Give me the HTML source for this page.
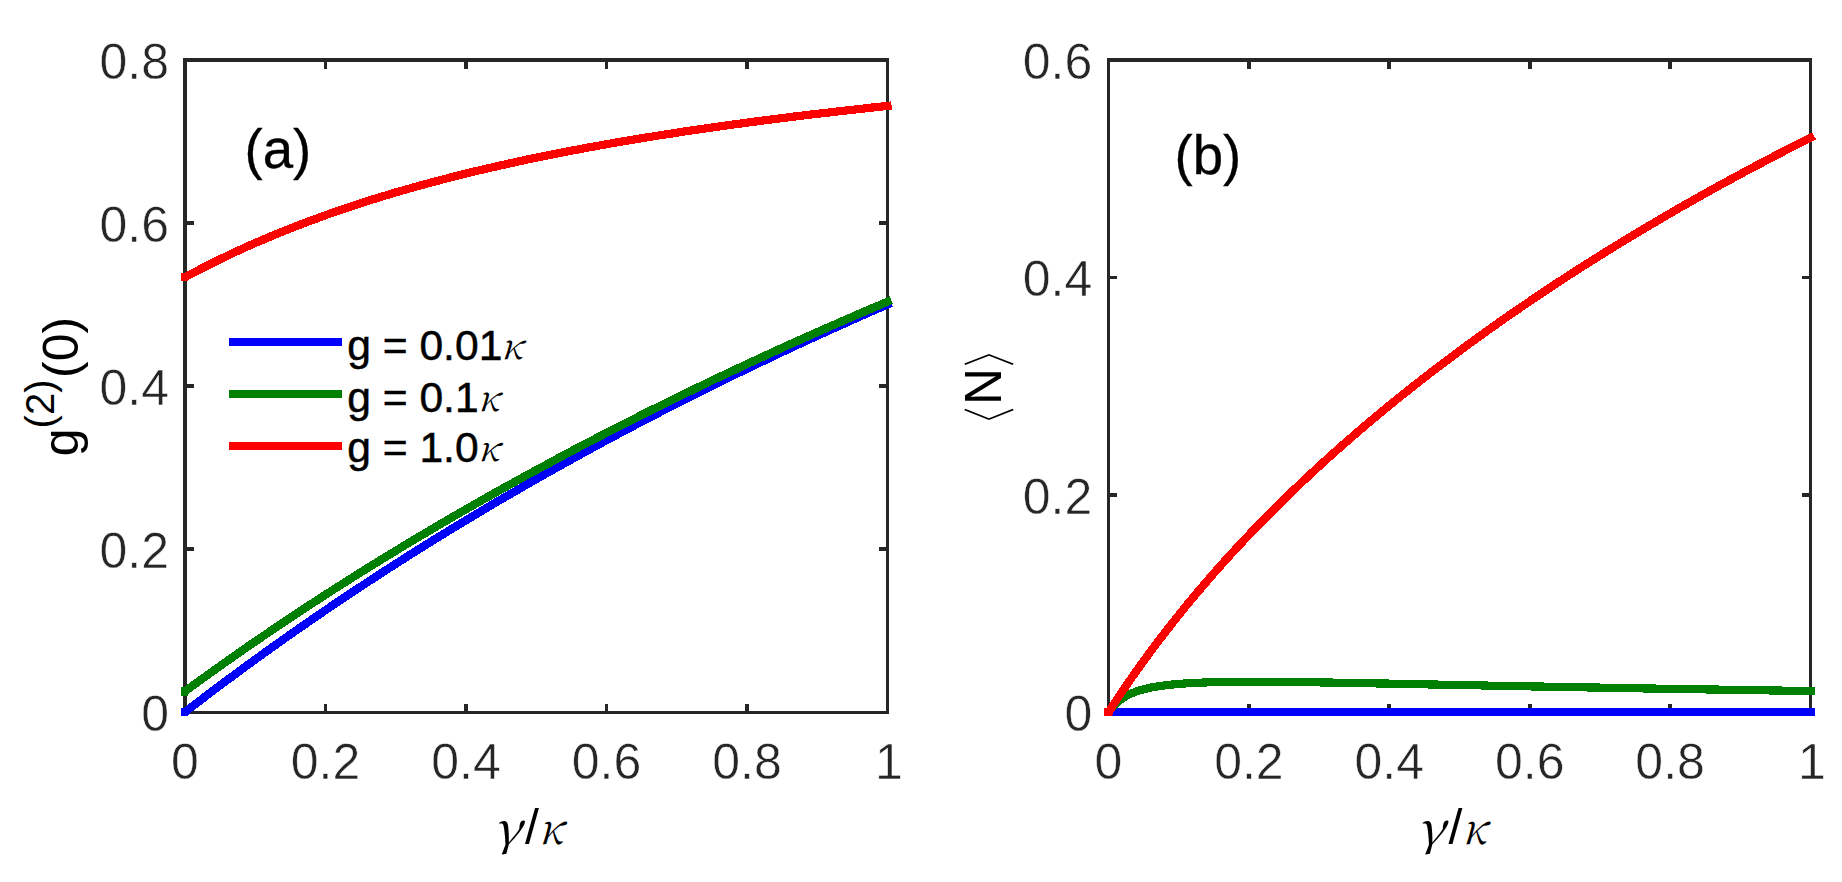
<!DOCTYPE html>
<html lang="en"><head><meta charset="utf-8"><title>Figure</title>
<style>html,body{margin:0;padding:0;background:#fff;overflow:hidden}svg{display:block}.t{font-family:"Liberation Sans",sans-serif;font-size:50px;fill:#262626;stroke:#fff;stroke-width:.5px}.l{font-family:"Liberation Sans",sans-serif;font-size:42.6px;fill:#000;stroke:#000;stroke-width:.5px}.k{font-family:"Liberation Serif",serif;font-style:italic;fill:#000}.p{font-family:"Liberation Sans",sans-serif;font-size:54.6px;fill:#000;stroke:#000;stroke-width:.3px}.y{font-family:"Liberation Sans",sans-serif;font-size:50px;fill:#000}.c{fill:none;stroke-width:8.2;stroke-linecap:square;stroke-linejoin:miter}</style></head><body>
<svg width="1842" height="882" viewBox="0 0 1842 882">
<rect width="1842" height="882" fill="#fff"/>
<g shape-rendering="crispEdges">
<rect x="183" y="58" width="706" height="4" fill="#262626"/>
<rect x="183" y="711" width="706" height="3" fill="#262626"/>
<rect x="183" y="58" width="4" height="656" fill="#262626"/>
<rect x="886" y="58" width="3" height="656" fill="#262626"/>
<rect x="324" y="704" width="3" height="7" fill="#262626"/>
<rect x="324" y="62" width="3" height="7" fill="#262626"/>
<rect x="464" y="704" width="4" height="7" fill="#262626"/>
<rect x="464" y="62" width="4" height="7" fill="#262626"/>
<rect x="605" y="704" width="3" height="7" fill="#262626"/>
<rect x="605" y="62" width="3" height="7" fill="#262626"/>
<rect x="745" y="704" width="4" height="7" fill="#262626"/>
<rect x="745" y="62" width="4" height="7" fill="#262626"/>
<rect x="187" y="547" width="7" height="4" fill="#262626"/>
<rect x="879" y="547" width="7" height="4" fill="#262626"/>
<rect x="187" y="384" width="7" height="4" fill="#262626"/>
<rect x="879" y="384" width="7" height="4" fill="#262626"/>
<rect x="187" y="221" width="7" height="4" fill="#262626"/>
<rect x="879" y="221" width="7" height="4" fill="#262626"/>
</g>
<text class="t" x="185.0" y="779.1" text-anchor="middle">0</text>
<text class="t" x="325.5" y="779.1" text-anchor="middle">0.2</text>
<text class="t" x="466.0" y="779.1" text-anchor="middle">0.4</text>
<text class="t" x="606.5" y="779.1" text-anchor="middle">0.6</text>
<text class="t" x="747.0" y="779.1" text-anchor="middle">0.8</text>
<text class="t" x="889.0" y="779.1" text-anchor="middle">1</text>
<text class="t" x="169.0" y="731.4" text-anchor="end">0</text>
<text class="t" x="169.0" y="568.3" text-anchor="end">0.2</text>
<text class="t" x="169.0" y="405.1" text-anchor="end">0.4</text>
<text class="t" x="169.0" y="242.0" text-anchor="end">0.6</text>
<text class="t" x="169.0" y="78.9" text-anchor="end">0.8</text>
<g shape-rendering="crispEdges">
<rect x="1107" y="58" width="705" height="4" fill="#262626"/>
<rect x="1107" y="711" width="705" height="3" fill="#262626"/>
<rect x="1107" y="58" width="3" height="656" fill="#262626"/>
<rect x="1809" y="58" width="3" height="656" fill="#262626"/>
<rect x="1247" y="704" width="4" height="7" fill="#262626"/>
<rect x="1247" y="62" width="4" height="7" fill="#262626"/>
<rect x="1387" y="704" width="4" height="7" fill="#262626"/>
<rect x="1387" y="62" width="4" height="7" fill="#262626"/>
<rect x="1528" y="704" width="4" height="7" fill="#262626"/>
<rect x="1528" y="62" width="4" height="7" fill="#262626"/>
<rect x="1668" y="704" width="4" height="7" fill="#262626"/>
<rect x="1668" y="62" width="4" height="7" fill="#262626"/>
<rect x="1110" y="493" width="7" height="4" fill="#262626"/>
<rect x="1802" y="493" width="7" height="4" fill="#262626"/>
<rect x="1110" y="276" width="7" height="3" fill="#262626"/>
<rect x="1802" y="276" width="7" height="3" fill="#262626"/>
</g>
<text class="t" x="1108.5" y="779.1" text-anchor="middle">0</text>
<text class="t" x="1248.9" y="779.1" text-anchor="middle">0.2</text>
<text class="t" x="1389.3" y="779.1" text-anchor="middle">0.4</text>
<text class="t" x="1529.7" y="779.1" text-anchor="middle">0.6</text>
<text class="t" x="1670.1" y="779.1" text-anchor="middle">0.8</text>
<text class="t" x="1812.0" y="779.1" text-anchor="middle">1</text>
<text class="t" x="1092.3" y="731.4" text-anchor="end">0</text>
<text class="t" x="1092.3" y="513.9" text-anchor="end">0.2</text>
<text class="t" x="1092.3" y="296.4" text-anchor="end">0.4</text>
<text class="t" x="1092.3" y="78.9" text-anchor="end">0.6</text>
<g class="c" shape-rendering="crispEdges">
<path d="M185.0,712.1 h0.6 L186.4,711.0 L188.5,709.4 L192.0,706.7 L199.1,701.3 L206.1,695.9 L213.1,690.6 L220.1,685.4 L227.2,680.1 L234.2,674.9 L241.2,669.7 L248.2,664.6 L255.2,659.5 L262.3,654.4 L269.3,649.4 L276.3,644.4 L283.4,639.4 L290.4,634.4 L297.4,629.5 L304.4,624.7 L311.5,619.8 L318.5,615.0 L325.5,610.2 L332.5,605.4 L339.6,600.7 L346.6,596.0 L353.6,591.3 L360.6,586.7 L367.6,582.1 L374.7,577.5 L381.7,572.9 L388.7,568.4 L395.8,563.9 L402.8,559.4 L409.8,554.9 L416.8,550.5 L423.9,546.1 L430.9,541.7 L437.9,537.4 L444.9,533.1 L451.9,528.8 L459.0,524.5 L466.0,520.3 L473.0,516.1 L480.1,511.9 L487.1,507.7 L494.1,503.5 L501.1,499.4 L508.2,495.3 L515.2,491.3 L522.2,487.2 L529.2,483.2 L536.2,479.2 L543.3,475.2 L550.3,471.2 L557.3,467.3 L564.4,463.4 L571.4,459.5 L578.4,455.6 L585.4,451.8 L592.5,447.9 L599.5,444.1 L606.5,440.3 L613.5,436.6 L620.5,432.8 L627.6,429.1 L634.6,425.4 L641.6,421.7 L648.7,418.1 L655.7,414.4 L662.7,410.8 L669.7,407.2 L676.8,403.6 L683.8,400.1 L690.8,396.5 L697.8,393.0 L704.9,389.5 L711.9,386.0 L718.9,382.5 L725.9,379.1 L733.0,375.6 L740.0,372.2 L747.0,368.8 L754.0,365.5 L761.1,362.1 L768.1,358.7 L775.1,355.4 L782.1,352.1 L789.1,348.8 L796.2,345.5 L803.2,342.3 L810.2,339.0 L817.2,335.8 L824.3,332.6 L831.3,329.4 L838.3,326.2 L845.4,323.1 L852.4,319.9 L859.4,316.8 L866.4,313.7 L873.4,310.6 L880.5,307.5 L887.5,304.5" stroke="#0000ff"/>
<path d="M185.0,691.4 h0.6 L186.4,690.4 L188.5,688.8 L192.0,686.2 L199.1,681.1 L206.1,676.0 L213.1,671.0 L220.1,666.0 L227.2,661.0 L234.2,656.1 L241.2,651.2 L248.2,646.3 L255.2,641.5 L262.3,636.7 L269.3,631.9 L276.3,627.1 L283.4,622.4 L290.4,617.7 L297.4,613.1 L304.4,608.4 L311.5,603.8 L318.5,599.3 L325.5,594.7 L332.5,590.2 L339.6,585.7 L346.6,581.3 L353.6,576.8 L360.6,572.4 L367.6,568.0 L374.7,563.7 L381.7,559.3 L388.7,555.0 L395.8,550.8 L402.8,546.5 L409.8,542.3 L416.8,538.1 L423.9,533.9 L430.9,529.7 L437.9,525.6 L444.9,521.5 L451.9,517.4 L459.0,513.3 L466.0,509.3 L473.0,505.3 L480.1,501.3 L487.1,497.3 L494.1,493.3 L501.1,489.4 L508.2,485.5 L515.2,481.6 L522.2,477.7 L529.2,473.9 L536.2,470.1 L543.3,466.3 L550.3,462.5 L557.3,458.7 L564.4,455.0 L571.4,451.2 L578.4,447.5 L585.4,443.8 L592.5,440.2 L599.5,436.5 L606.5,432.9 L613.5,429.3 L620.5,425.7 L627.6,422.1 L634.6,418.6 L641.6,415.0 L648.7,411.5 L655.7,408.0 L662.7,404.5 L669.7,401.1 L676.8,397.6 L683.8,394.2 L690.8,390.8 L697.8,387.4 L704.9,384.0 L711.9,380.6 L718.9,377.3 L725.9,374.0 L733.0,370.6 L740.0,367.4 L747.0,364.1 L754.0,360.8 L761.1,357.6 L768.1,354.3 L775.1,351.1 L782.1,347.9 L789.1,344.7 L796.2,341.6 L803.2,338.4 L810.2,335.3 L817.2,332.2 L824.3,329.0 L831.3,326.0 L838.3,322.9 L845.4,319.8 L852.4,316.8 L859.4,313.7 L866.4,310.7 L873.4,307.7 L880.5,304.7 L887.5,301.7" stroke="#008000"/>
<path d="M185.0,277.3 h0.6 L186.4,276.5 L188.5,275.4 L192.0,273.5 L199.1,269.8 L206.1,266.2 L213.1,262.7 L220.1,259.2 L227.2,255.9 L234.2,252.5 L241.2,249.3 L248.2,246.1 L255.2,243.0 L262.3,240.0 L269.3,237.0 L276.3,234.1 L283.4,231.2 L290.4,228.4 L297.4,225.7 L304.4,223.0 L311.5,220.4 L318.5,217.8 L325.5,215.2 L332.5,212.8 L339.6,210.3 L346.6,207.9 L353.6,205.6 L360.6,203.3 L367.6,201.0 L374.7,198.8 L381.7,196.7 L388.7,194.5 L395.8,192.4 L402.8,190.4 L409.8,188.4 L416.8,186.4 L423.9,184.5 L430.9,182.6 L437.9,180.7 L444.9,178.9 L451.9,177.1 L459.0,175.3 L466.0,173.5 L473.0,171.8 L480.1,170.1 L487.1,168.5 L494.1,166.9 L501.1,165.3 L508.2,163.7 L515.2,162.2 L522.2,160.6 L529.2,159.1 L536.2,157.7 L543.3,156.2 L550.3,154.8 L557.3,153.4 L564.4,152.0 L571.4,150.7 L578.4,149.4 L585.4,148.0 L592.5,146.7 L599.5,145.5 L606.5,144.2 L613.5,143.0 L620.5,141.8 L627.6,140.6 L634.6,139.4 L641.6,138.2 L648.7,137.1 L655.7,136.0 L662.7,134.8 L669.7,133.8 L676.8,132.7 L683.8,131.6 L690.8,130.6 L697.8,129.5 L704.9,128.5 L711.9,127.5 L718.9,126.5 L725.9,125.5 L733.0,124.5 L740.0,123.6 L747.0,122.6 L754.0,121.7 L761.1,120.8 L768.1,119.9 L775.1,119.0 L782.1,118.1 L789.1,117.2 L796.2,116.3 L803.2,115.5 L810.2,114.6 L817.2,113.8 L824.3,113.0 L831.3,112.2 L838.3,111.3 L845.4,110.6 L852.4,109.8 L859.4,109.0 L866.4,108.2 L873.4,107.4 L880.5,106.7 L887.5,105.9" stroke="#ff0000"/>
</g>
<g class="c" shape-rendering="crispEdges">
<path d="M1108.5,712.3 h0.6 L1109.9,711.9 L1112.0,711.9 L1115.5,711.9 L1122.5,711.9 L1129.6,711.9 L1136.6,711.9 L1143.6,711.9 L1150.6,711.9 L1157.6,711.9 L1164.7,711.9 L1171.7,711.9 L1178.7,711.9 L1185.7,711.9 L1192.7,711.9 L1199.8,711.9 L1206.8,711.9 L1213.8,711.9 L1220.8,711.9 L1227.8,711.9 L1234.9,711.9 L1241.9,711.9 L1248.9,711.9 L1255.9,711.9 L1262.9,711.9 L1270.0,711.9 L1277.0,711.9 L1284.0,712.0 L1291.0,712.0 L1298.0,712.0 L1305.1,712.0 L1312.1,712.0 L1319.1,712.0 L1326.1,712.0 L1333.1,712.0 L1340.2,712.0 L1347.2,712.0 L1354.2,712.0 L1361.2,712.0 L1368.2,712.0 L1375.3,712.0 L1382.3,712.0 L1389.3,712.0 L1396.3,712.0 L1403.3,712.0 L1410.4,712.0 L1417.4,712.0 L1424.4,712.0 L1431.4,712.0 L1438.4,712.0 L1445.5,712.0 L1452.5,712.0 L1459.5,712.0 L1466.5,712.0 L1473.5,712.0 L1480.6,712.0 L1487.6,712.0 L1494.6,712.0 L1501.6,712.0 L1508.6,712.0 L1515.7,712.0 L1522.7,712.0 L1529.7,712.0 L1536.7,712.0 L1543.7,712.0 L1550.8,712.0 L1557.8,712.0 L1564.8,712.0 L1571.8,712.0 L1578.8,712.0 L1585.9,712.0 L1592.9,712.0 L1599.9,712.0 L1606.9,712.0 L1613.9,712.0 L1621.0,712.0 L1628.0,712.1 L1635.0,712.1 L1642.0,712.1 L1649.0,712.1 L1656.1,712.1 L1663.1,712.1 L1670.1,712.1 L1677.1,712.1 L1684.1,712.1 L1691.2,712.1 L1698.2,712.1 L1705.2,712.1 L1712.2,712.1 L1719.2,712.1 L1726.3,712.1 L1733.3,712.1 L1740.3,712.1 L1747.3,712.1 L1754.3,712.1 L1761.4,712.1 L1768.4,712.1 L1775.4,712.1 L1782.4,712.1 L1789.4,712.1 L1796.5,712.1 L1803.5,712.1 L1810.5,712.1" stroke="#0000ff"/>
<path d="M1108.5,712.3 h0.6 L1109.9,710.2 L1112.0,707.5 L1115.5,703.7 L1122.5,698.1 L1129.6,694.2 L1136.6,691.4 L1143.6,689.2 L1150.6,687.6 L1157.6,686.4 L1164.7,685.4 L1171.7,684.6 L1178.7,683.9 L1185.7,683.4 L1192.7,683.0 L1199.8,682.7 L1206.8,682.4 L1213.8,682.2 L1220.8,682.1 L1227.8,682.0 L1234.9,681.9 L1241.9,681.8 L1248.9,681.8 L1255.9,681.8 L1262.9,681.8 L1270.0,681.9 L1277.0,681.9 L1284.0,682.0 L1291.0,682.0 L1298.0,682.1 L1305.1,682.2 L1312.1,682.3 L1319.1,682.4 L1326.1,682.5 L1333.1,682.6 L1340.2,682.7 L1347.2,682.9 L1354.2,683.0 L1361.2,683.1 L1368.2,683.2 L1375.3,683.4 L1382.3,683.5 L1389.3,683.6 L1396.3,683.8 L1403.3,683.9 L1410.4,684.0 L1417.4,684.2 L1424.4,684.3 L1431.4,684.5 L1438.4,684.6 L1445.5,684.7 L1452.5,684.9 L1459.5,685.0 L1466.5,685.1 L1473.5,685.3 L1480.6,685.4 L1487.6,685.6 L1494.6,685.7 L1501.6,685.8 L1508.6,686.0 L1515.7,686.1 L1522.7,686.2 L1529.7,686.4 L1536.7,686.5 L1543.7,686.6 L1550.8,686.8 L1557.8,686.9 L1564.8,687.0 L1571.8,687.1 L1578.8,687.3 L1585.9,687.4 L1592.9,687.5 L1599.9,687.6 L1606.9,687.8 L1613.9,687.9 L1621.0,688.0 L1628.0,688.1 L1635.0,688.3 L1642.0,688.4 L1649.0,688.5 L1656.1,688.6 L1663.1,688.7 L1670.1,688.8 L1677.1,689.0 L1684.1,689.1 L1691.2,689.2 L1698.2,689.3 L1705.2,689.4 L1712.2,689.5 L1719.2,689.6 L1726.3,689.7 L1733.3,689.9 L1740.3,690.0 L1747.3,690.1 L1754.3,690.2 L1761.4,690.3 L1768.4,690.4 L1775.4,690.5 L1782.4,690.6 L1789.4,690.7 L1796.5,690.8 L1803.5,690.9 L1810.5,691.0" stroke="#008000"/>
<path d="M1108.5,712.3 h0.6 L1109.9,710.1 L1112.0,706.9 L1115.5,701.6 L1122.5,691.1 L1129.6,680.8 L1136.6,670.8 L1143.6,661.0 L1150.6,651.5 L1157.6,642.1 L1164.7,632.9 L1171.7,623.9 L1178.7,615.1 L1185.7,606.4 L1192.7,597.9 L1199.8,589.6 L1206.8,581.4 L1213.8,573.3 L1220.8,565.4 L1227.8,557.6 L1234.9,549.9 L1241.9,542.4 L1248.9,535.0 L1255.9,527.6 L1262.9,520.4 L1270.0,513.3 L1277.0,506.3 L1284.0,499.4 L1291.0,492.6 L1298.0,485.9 L1305.1,479.2 L1312.1,472.7 L1319.1,466.2 L1326.1,459.8 L1333.1,453.5 L1340.2,447.2 L1347.2,441.1 L1354.2,435.0 L1361.2,429.0 L1368.2,423.0 L1375.3,417.1 L1382.3,411.3 L1389.3,405.5 L1396.3,399.8 L1403.3,394.2 L1410.4,388.6 L1417.4,383.0 L1424.4,377.6 L1431.4,372.1 L1438.4,366.8 L1445.5,361.4 L1452.5,356.2 L1459.5,351.0 L1466.5,345.8 L1473.5,340.7 L1480.6,335.6 L1487.6,330.5 L1494.6,325.6 L1501.6,320.6 L1508.6,315.7 L1515.7,310.9 L1522.7,306.0 L1529.7,301.3 L1536.7,296.5 L1543.7,291.8 L1550.8,287.2 L1557.8,282.5 L1564.8,278.0 L1571.8,273.4 L1578.8,268.9 L1585.9,264.4 L1592.9,260.0 L1599.9,255.6 L1606.9,251.2 L1613.9,246.9 L1621.0,242.6 L1628.0,238.3 L1635.0,234.1 L1642.0,229.9 L1649.0,225.7 L1656.1,221.6 L1663.1,217.4 L1670.1,213.4 L1677.1,209.3 L1684.1,205.3 L1691.2,201.3 L1698.2,197.3 L1705.2,193.4 L1712.2,189.5 L1719.2,185.6 L1726.3,181.8 L1733.3,178.0 L1740.3,174.2 L1747.3,170.4 L1754.3,166.7 L1761.4,163.0 L1768.4,159.3 L1775.4,155.6 L1782.4,152.0 L1789.4,148.4 L1796.5,144.8 L1803.5,141.3 L1810.5,137.7" stroke="#ff0000"/>
</g>
<g shape-rendering="crispEdges">
<rect x="229" y="338" width="113" height="8" fill="#0000ff"/>
<rect x="229" y="390" width="113" height="8" fill="#008000"/>
<rect x="229" y="442" width="113" height="8" fill="#ff0000"/>
</g>
<text class="l" x="347.2" y="359.7">g = 0.01</text>
<text font-family="'Noto Serif CJK SC','Liberation Serif',serif" font-style="italic" font-size="100" fill="#000" transform="matrix(0.3825 0 0 0.3509 500.68 359.30)">κ</text>
<text class="l" x="347.2" y="411.8">g = 0.1</text>
<text font-family="'Noto Serif CJK SC','Liberation Serif',serif" font-style="italic" font-size="100" fill="#000" transform="matrix(0.3772 0 0 0.3509 477.73 411.30)">κ</text>
<text class="l" x="347.2" y="461.7">g = 1.0</text>
<text font-family="'Noto Serif CJK SC','Liberation Serif',serif" font-style="italic" font-size="100" fill="#000" transform="matrix(0.3772 0 0 0.3436 477.73 461.31)">κ</text>
<text class="p" x="244.5" y="167.8">(a)</text>
<text class="p" x="1174.5" y="173.8">(b)</text>
<text font-family="'Noto Serif CJK SC','Liberation Serif',serif" font-style="italic" font-size="100" fill="#000" transform="matrix(0.5265 0 0 0.4595 492.68 845.35)">γ</text>
<text class="y" x="525.0" y="843.5">/</text>
<text font-family="'Noto Serif CJK SC','Liberation Serif',serif" font-style="italic" font-size="100" fill="#000" transform="matrix(0.4281 0 0 0.4218 538.52 844.16)">κ</text>
<text font-family="'Noto Serif CJK SC','Liberation Serif',serif" font-style="italic" font-size="100" fill="#000" transform="matrix(0.5265 0 0 0.4595 1416.18 845.35)">γ</text>
<text class="y" x="1448.5" y="843.5">/</text>
<text font-family="'Noto Serif CJK SC','Liberation Serif',serif" font-style="italic" font-size="100" fill="#000" transform="matrix(0.4281 0 0 0.4218 1462.02 844.16)">κ</text>
<text class="y" transform="translate(77.6 456.2) rotate(-90)">g<tspan font-size="40" dy="-23.6">(2)</tspan><tspan dy="23.6" dx="1.5">(0)</tspan></text>
<g transform="translate(1001 386.5) rotate(-90)">
<text class="y" font-size="51" style="font-size:51px" x="-18.6" y="0">N</text>
<text font-family="'WenQuanYi Zen Hei','Noto Sans CJK SC',sans-serif" font-style="normal" font-size="100" fill="#000" transform="matrix(0.4750 0 0 0.5591 -63.42 7.63)">〈</text>
<text font-family="'WenQuanYi Zen Hei','Noto Sans CJK SC',sans-serif" font-style="normal" font-size="100" fill="#000" transform="matrix(0.4625 0 0 0.5591 15.49 7.63)">〉</text>
</g>
</svg></body></html>
